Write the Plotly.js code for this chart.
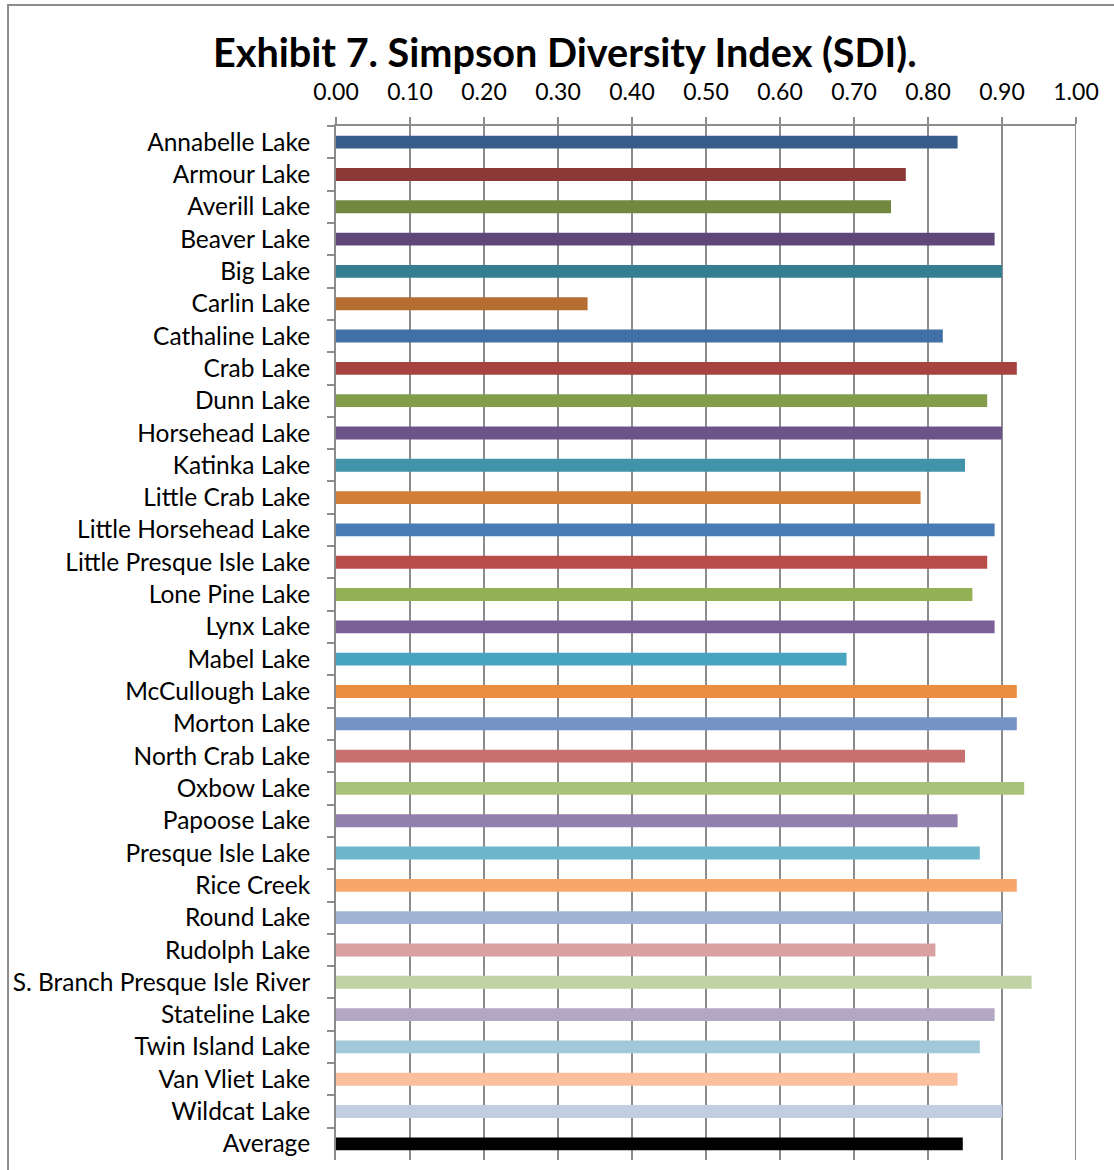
<!DOCTYPE html>
<html>
<head>
<meta charset="utf-8">
<script src="https://cdn.plot.ly/plotly-3.0.1.min.js"></script>
<style>
html,body{margin:0;padding:0;background:#fff;}
#chart{width:1114px;height:1170px;}
</style>
</head>
<body>
<div id="chart"></div>
<script>
const lakes = ["Annabelle Lake","Armour Lake","Averill Lake","Beaver Lake","Big Lake","Carlin Lake","Cathaline Lake","Crab Lake","Dunn Lake","Horsehead Lake","Katinka Lake","Little Crab Lake","Little Horsehead Lake","Little Presque Isle Lake","Lone Pine Lake","Lynx Lake","Mabel Lake","McCullough Lake","Morton Lake","North Crab Lake","Oxbow Lake","Papoose Lake","Presque Isle Lake","Rice Creek","Round Lake","Rudolph Lake","S. Branch Presque Isle River","Stateline Lake","Twin Island Lake","Van Vliet Lake","Wildcat Lake","Average"];
const sdi = [0.84,0.77,0.75,0.89,0.90,0.34,0.82,0.92,0.88,0.90,0.85,0.79,0.89,0.88,0.86,0.89,0.69,0.92,0.92,0.85,0.93,0.84,0.87,0.92,0.90,0.81,0.94,0.89,0.87,0.84,0.90,0.847];
const barColors = ["#385D8A","#8C3836","#71893F","#5F4879","#357D91","#B66D31","#426FA6","#A64340","#839D4B","#6C5489","#4093A9","#D37E38","#497BB4","#B84C49","#94B055","#7B5F97","#47A5BF","#EC8E40","#7394C5","#C6716F","#A9C27A","#937FAD","#6DB5CB","#F9A66C","#A1B3D5","#D9A1A0","#C1D2A4","#B2A8C4","#A0C8D8","#F9BF9F","#C3CDE1","#000000"];
const xTicks = [0,0.1,0.2,0.3,0.4,0.5,0.6,0.7,0.8,0.9,1.0];
const xMax = 1.0;
const titleText = "Exhibit 7. Simpson Diversity Index (SDI).";

const fontFam = "Lato, 'Noto Sans', sans-serif";
const trace = {
  type: "bar",
  orientation: "h",
  x: sdi,
  y: lakes,
  marker: {color: barColors, line: {width: 0}},
  hoverinfo: "x+y"
};
const layout = {
  width: 1114, height: 1170,
  margin: {l: 336, r: 38, t: 126, b: 10, pad: 0},
  paper_bgcolor: "#fff", plot_bgcolor: "#fff",
  showlegend: false,
  bargap: 0.6,
  title: {text: "<b>" + titleText + "</b>", font: {family: fontFam, size: 39.6, color: "#000"}, x: 0.507, xanchor: "center", y: 0.955, yanchor: "middle", xref: "container", yref: "container"},
  xaxis: {
    side: "top", range: [0, xMax], tickvals: xTicks, tickformat: ".2f",
    showgrid: true, gridcolor: "#8c8c8c", gridwidth: 2,
    showline: true, linecolor: "#8c8c8c", linewidth: 2,
    ticks: "outside", ticklen: 7, tickcolor: "#8c8c8c", tickwidth: 2,
    ticklabelstandoff: 8,
    tickfont: {family: fontFam, size: 23, color: "#000"},
    zeroline: false, fixedrange: true
  },
  yaxis: {
    type: "category", autorange: "reversed",
    showline: true, linecolor: "#8c8c8c", linewidth: 2,
    ticks: "outside", ticklen: 7, tickcolor: "#8c8c8c", tickwidth: 2, tickson: "boundaries",
    ticklabelstandoff: 19,
    tickfont: {family: fontFam, size: 24.5, color: "#000"},
    showgrid: false, zeroline: false, fixedrange: true
  },
  shapes: [{
    type: "rect", xref: "paper", yref: "paper",
    x0: -0.4432, x1: 1.06, y0: -0.02, y1: 1.117,
    line: {color: "#8c8c8c", width: 2}, fillcolor: "rgba(0,0,0,0)", layer: "below"
  }, {
    type: "line", xref: "x", yref: "paper",
    x0: xMax, x1: xMax, y0: 0, y1: 1,
    line: {color: "#8c8c8c", width: 2}, layer: "below"
  }]
};
Plotly.newPlot("chart", [trace], layout, {displayModeBar: false, staticPlot: false});
</script>
</body>
</html>
